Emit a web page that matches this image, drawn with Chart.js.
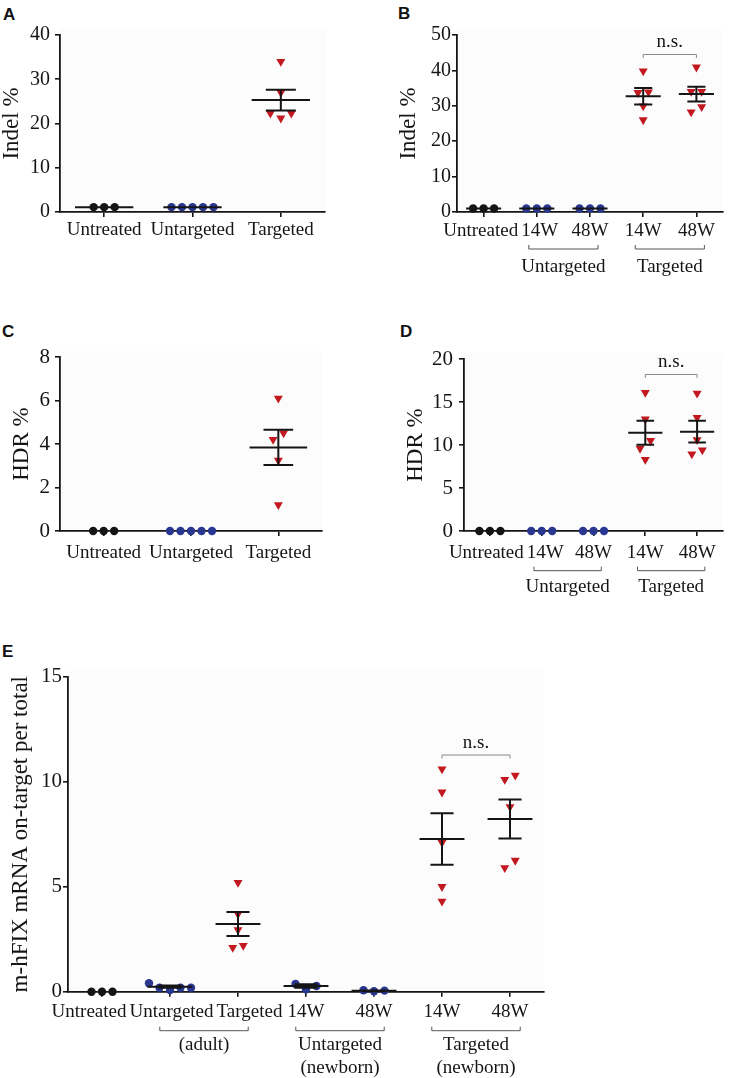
<!DOCTYPE html>
<html>
<head>
<meta charset="utf-8">
<script src="https://cdn.jsdelivr.net/npm/chart.js@4.4.1/dist/chart.umd.min.js"></script>
<style>
  body { margin: 0; background: #fff; }
  #fig { position: relative; width: 730px; height: 1078px; overflow: hidden; }
  canvas { position: absolute; }
  .tag { position: absolute; font: bold 17px "Liberation Sans", Arial, sans-serif; line-height: 1; color: #111; }
</style>
</head>
<body>
<div id="fig">
  <div class="tag" style="left:3px;top:6px">A</div>
  <div class="tag" style="left:398px;top:5px">B</div>
  <div class="tag" style="left:2px;top:323px">C</div>
  <div class="tag" style="left:400px;top:323px">D</div>
  <div class="tag" style="left:2px;top:643px">E</div>
  <canvas id="chartA" width="340" height="245" style="left:0;top:0"></canvas>
  <canvas id="chartB" width="365" height="290" style="left:365px;top:0"></canvas>
  <canvas id="chartC" width="340" height="280" style="left:0;top:300px"></canvas>
  <canvas id="chartD" width="365" height="300" style="left:365px;top:300px"></canvas>
  <canvas id="chartE" width="560" height="463" style="left:0;top:615px"></canvas>
</div>
<script>
// ---- A: indel %, adult ----
const groupsA = ['Untreated', 'Untargeted', 'Targeted'];
const kindsA = ['ctrl', 'untar', 'tar'];
const indelA = [[1.1, 1.1, 1.1], [1.1, 1.1, 1.1, 1.1, 1.1], [34.0, 27.0, 22.3, 22.3, 21.2]];
const indelMeanA = [1.05, 1.05, 25.3];
const indelSemA = [0, 0, 2.35];
const yTicksA = [0, 40, 10]; // min, max, step

// ---- B: indel %, newborn ----
const groupsB = ['Untreated', '14W', '48W', '14W', '48W'];
const kindsB = ['ctrl', 'untar', 'untar', 'tar', 'tar'];
const indelB = [[1.0, 1.0, 1.0], [1.0, 1.0, 1.0], [1.0, 1.0, 1.0],
                [39.8, 33.7, 33.9, 29.9, 26.0], [40.9, 34.0, 34.0, 29.7, 28.2]];
const indelMeanB = [1.0, 1.0, 1.0, 32.7, 33.3];
const indelSemB = [0, 0, 0, 2.3, 2.1];
const yTicksB = [0, 50, 10];

// ---- C: HDR %, adult ----
const groupsC = ['Untreated', 'Untargeted', 'Targeted'];
const kindsC = ['ctrl', 'untar', 'tar'];
const hdrC = [[0, 0, 0], [0, 0, 0, 0, 0], [6.1, 4.5, 4.2, 3.25, 1.2]];
const hdrMeanC = [0, 0, 3.84];
const hdrSemC = [0, 0, 0.81];
const yTicksC = [0, 8, 2];

// ---- D: HDR %, newborn ----
const groupsD = ['Untreated', '14W', '48W', '14W', '48W'];
const kindsD = ['ctrl', 'untar', 'untar', 'tar', 'tar'];
const hdrD = [[0, 0, 0], [0, 0, 0], [0, 0, 0],
              [16.1, 13.0, 10.5, 9.6, 8.3], [16.0, 13.2, 10.6, 9.4, 8.95]];
const hdrMeanD = [0, 0, 0, 11.43, 11.55];
const hdrSemD = [0, 0, 0, 1.4, 1.27];
const yTicksD = [0, 20, 5];

// ---- E: m-hFIX mRNA ----
const groupsE = ['Untreated', 'Untargeted', 'Targeted', '14W', '48W', '14W', '48W'];
const kindsE = ['ctrl', 'untar', 'tar', 'untar', 'untar', 'tar', 'tar'];
const mrnaE = [[0, 0, 0], [0.4, 0.19, 0.08, 0.19, 0.19], [5.2, 3.7, 2.95, 2.1, 2.2],
               [0.37, 0.11, 0.27], [0.05, 0.02, 0.07],
               [10.6, 9.5, 7.1, 5.0, 4.3], [10.1, 10.3, 8.8, 5.9, 6.25]];
const mrnaMeanE = [0, 0.24, 3.22, 0.27, 0.04, 7.27, 8.22];
const mrnaSemE = [0, 0.05, 0.57, 0.08, 0.015, 1.23, 0.93];
const yTicksE = [0, 15, 5];

// group brackets under the axis and n.s. comparisons
const bracketsB = [{from: 1, to: 2, text: ['Untargeted']}, {from: 3, to: 4, text: ['Targeted']}];
const bracketsD = bracketsB;
const bracketsE = [{from: 1, to: 2, text: ['(adult)']},
                   {from: 3, to: 4, text: ['Untargeted', '(newborn)']},
                   {from: 5, to: 6, text: ['Targeted', '(newborn)']}];
const nsB = {from: 3, to: 4, at: 44.5};
const nsD = {from: 3, to: 4, at: 18.2};
const nsE = {from: 5, to: 6, at: 11.27};

const SERIF = '"Liberation Serif", "Times New Roman", Times, serif';
const INK = '#151515';

const markStyles = {
    ctrl:  {shape: 'circle',   rotation: 0,   radius: 4.2, color: '#141414'},
    untar: {shape: 'circle',   rotation: 0,   radius: 4.2, color: '#293790'},
    tar:   {shape: 'triangle', rotation: 180, radius: 5.2, color: '#c2181f'}
};

// light plot background
const plotBg = {
    id: 'plotBg',
    beforeDraw(chart) {
        const {ctx, chartArea: a} = chart;
        ctx.save();
        ctx.fillStyle = '#fcfcfc';
        ctx.fillRect(a.left, a.top - 6, a.right - a.left, a.bottom - a.top + 6);
        ctx.restore();
    }
};

// spread points of one column sideways when they sit on the same row
const swarm = {
    id: 'swarm',
    afterDatasetsUpdate(chart, args, opts) {
        chart.data.datasets.forEach((ds, i) => {
            const pts = chart.getDatasetMeta(i).data.slice().sort((a, b) => b.y - a.y);
            const rows = [];
            pts.forEach(p => {
                const row = rows[rows.length - 1];
                if (row && Math.abs(row[row.length - 1].y - p.y) < opts.rowGap) row.push(p);
                else rows.push([p]);
            });
            rows.forEach(row => {
                const shift = row.length % 2 === 0 ? -0.5 : 0;
                row.forEach((p, k) => {
                    const slot = k === 0 ? 0 : (k % 2 ? (k + 1) / 2 : -k / 2);
                    p.x += (slot + shift) * opts.spacing;
                });
            });
        });
    }
};

// mean line with SEM whiskers
const meanSem = {
    id: 'meanSem',
    afterDatasetsDraw(chart, args, opts) {
        const {ctx, scales: {x, y}} = chart;
        const step = x.getPixelForValue(1) - x.getPixelForValue(0);
        ctx.save();
        ctx.strokeStyle = INK;
        ctx.lineWidth = 2;
        opts.mean.forEach((m, i) => {
            if (!m) return;
            const cx = x.getPixelForValue(i);
            const ym = y.getPixelForValue(m);
            ctx.beginPath();
            ctx.moveTo(cx - step * 0.33, ym);
            ctx.lineTo(cx + step * 0.33, ym);
            const s = opts.sem[i];
            if (s) {
                const yt = y.getPixelForValue(m + s);
                const yb = y.getPixelForValue(m - s);
                ctx.moveTo(cx, yt); ctx.lineTo(cx, yb);
                ctx.moveTo(cx - step * 0.17, yt); ctx.lineTo(cx + step * 0.17, yt);
                ctx.moveTo(cx - step * 0.17, yb); ctx.lineTo(cx + step * 0.17, yb);
            }
            ctx.stroke();
        });
        ctx.restore();
    }
};

// category labels, group brackets below the axis, n.s. bracket
const axisText = {
    id: 'axisText',
    afterDraw(chart, args, opts) {
        const {ctx, chartArea, scales: {x, y}} = chart;
        const step = x.getPixelForValue(1) - x.getPixelForValue(0);
        ctx.save();
        ctx.fillStyle = INK;
        ctx.font = '19px ' + SERIF;
        ctx.textAlign = 'center';
        ctx.textBaseline = 'alphabetic';

        const items = opts.labels.map((t, i) => ({t, w: ctx.measureText(t).width, cx: x.getPixelForValue(i)}));
        for (let pass = 0; pass < 40; pass++) {
            for (let i = 0; i < items.length - 1; i++) {
                const a = items[i], b = items[i + 1];
                const over = (a.cx + a.w / 2 + 3) - (b.cx - b.w / 2);
                if (over > 0) { a.cx -= over / 2; b.cx += over / 2; }
            }
        }
        items.forEach(it => ctx.fillText(it.t, it.cx, chartArea.bottom + opts.labelY));

        ctx.strokeStyle = '#555';
        ctx.lineWidth = 1;
        (opts.groups || []).forEach(g => {
            const x1 = x.getPixelForValue(g.from) - step * 0.15;
            const x2 = x.getPixelForValue(g.to) + step * 0.15;
            const yy = chartArea.bottom + opts.bracketY;
            ctx.beginPath();
            ctx.moveTo(x1, yy - 4); ctx.lineTo(x1, yy); ctx.lineTo(x2, yy); ctx.lineTo(x2, yy - 4);
            ctx.stroke();
            g.text.forEach((line, k) => {
                ctx.fillText(line, (x1 + x2) / 2, chartArea.bottom + opts.groupY + k * 23);
            });
        });

        if (opts.ns) {
            const x1 = x.getPixelForValue(opts.ns.from);
            const x2 = x.getPixelForValue(opts.ns.to);
            const yy = y.getPixelForValue(opts.ns.at);
            ctx.strokeStyle = '#888';
            ctx.beginPath();
            ctx.moveTo(x1, yy + 3.5); ctx.lineTo(x1, yy); ctx.lineTo(x2, yy); ctx.lineTo(x2, yy + 3.5);
            ctx.stroke();
            ctx.fillText('n.s.', (x1 + x2) / 2, yy - 7);
        }
        ctx.restore();
    }
};

function makePanel(id, cfg) {
    const datasets = cfg.values.map((vals, g) => {
        const st = markStyles[cfg.kinds[g]];
        return {
            label: cfg.groups[g],
            data: vals.map(v => ({x: g, y: v})),
            pointStyle: st.shape,
            rotation: st.rotation,
            pointRadius: st.radius,
            pointHoverRadius: st.radius,
            backgroundColor: st.color,
            borderColor: st.color,
            borderWidth: 0,
            showLine: false,
            clip: false
        };
    });
    const axisLine = {color: INK, width: 1.8};
    const tickMarks = {drawOnChartArea: false, drawTicks: true, tickLength: 5, color: INK, lineWidth: 1.6};
    return new Chart(document.getElementById(id), {
        type: 'scatter',
        data: {datasets},
        options: {
            responsive: false,
            animation: false,
            events: [],
            layout: {padding: {top: cfg.padTop, right: cfg.padRight, left: 0, bottom: 0}},
            scales: {
                x: {
                    type: 'linear',
                    min: -0.5,
                    max: cfg.groups.length - 0.5,
                    afterBuildTicks: s => { s.ticks = cfg.groups.map((_, i) => ({value: i})); },
                    ticks: {display: false},
                    grid: tickMarks,
                    border: axisLine,
                    afterFit: s => { s.height = cfg.xHeight; }
                },
                y: {
                    min: cfg.yTicks[0],
                    max: cfg.yTicks[1],
                    ticks: {stepSize: cfg.yTicks[2], color: INK, padding: cfg.tickPad,
                            font: {family: SERIF, size: cfg.tickSize}},
                    grid: tickMarks,
                    border: axisLine,
                    title: {display: true, text: cfg.yTitle, color: INK,
                            font: {family: SERIF, size: 23, lineHeight: 1},
                            padding: {top: cfg.titlePad, bottom: 0}},
                    afterFit: s => { s.width = cfg.yWidth; }
                }
            },
            plugins: {
                legend: {display: false},
                tooltip: {enabled: false},
                swarm: {spacing: 10.5, rowGap: 9},
                meanSem: {mean: cfg.mean, sem: cfg.sem},
                axisText: {labels: cfg.groups, labelY: cfg.labelY, groups: cfg.brackets,
                           bracketY: cfg.bracketY, groupY: cfg.groupY, ns: cfg.ns}
            }
        },
        plugins: [plotBg, swarm, meanSem, axisText]
    });
}

makePanel('chartA', {
    groups: groupsA, kinds: kindsA, values: indelA, mean: indelMeanA, sem: indelSemA,
    yTicks: yTicksA, yTitle: 'Indel %', tickSize: 20, tickPad: 5,
    yWidth: 60, padTop: 35, padRight: 15, xHeight: 33, titlePad: 0.5, labelY: 23
});
makePanel('chartB', {
    groups: groupsB, kinds: kindsB, values: indelB, mean: indelMeanB, sem: indelSemB,
    yTicks: yTicksB, yTitle: 'Indel %', tickSize: 20, tickPad: 1,
    yWidth: 92, padTop: 35, padRight: 7, xHeight: 78, titlePad: 32.5, labelY: 24,
    brackets: bracketsB, bracketY: 37, groupY: 59.7, ns: nsB
});
makePanel('chartC', {
    groups: groupsC, kinds: kindsC, values: hdrC, mean: hdrMeanC, sem: hdrSemC,
    yTicks: yTicksC, yTitle: 'HDR %', tickSize: 21, tickPad: 5,
    yWidth: 60, padTop: 57, padRight: 18, xHeight: 49, titlePad: 10.5, labelY: 27
});
makePanel('chartD', {
    groups: groupsD, kinds: kindsD, values: hdrD, mean: hdrMeanD, sem: hdrSemD,
    yTicks: yTicksD, yTitle: 'HDR %', tickSize: 21, tickPad: 6,
    yWidth: 99, padTop: 59, padRight: 7, xHeight: 69, titlePad: 39.5, labelY: 27,
    brackets: bracketsD, bracketY: 39.7, groupY: 61.3, ns: nsD
});
makePanel('chartE', {
    groups: groupsE, kinds: kindsE, values: mrnaE, mean: mrnaMeanE, sem: mrnaSemE,
    yTicks: yTicksE, yTitle: 'm-hFIX mRNA on-target per total', tickSize: 21, tickPad: 1,
    yWidth: 68, padTop: 61.7, padRight: 16, xHeight: 86.3, titlePad: 9.5, labelY: 25,
    brackets: bracketsE, bracketY: 39, groupY: 58, ns: nsE
});
</script>
</body>
</html>
